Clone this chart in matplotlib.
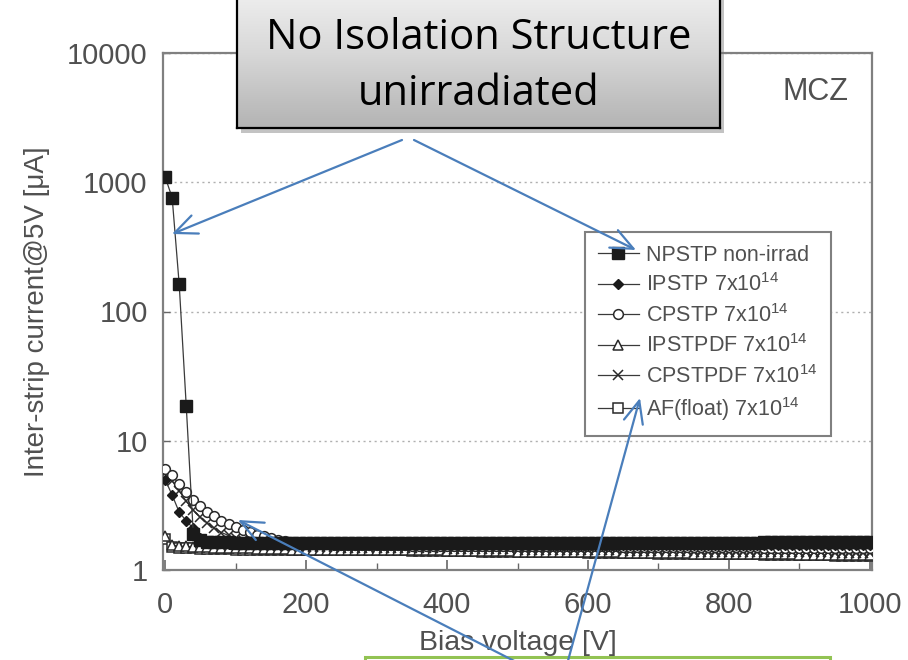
import matplotlib
matplotlib.use('Agg')
import matplotlib.pyplot as plt
import numpy as np
from matplotlib.patches import Rectangle
from matplotlib.colors import LinearSegmentedColormap

plt.rcParams['font.family'] = ['Liberation Sans', 'DejaVu Sans']
plt.rcParams['mathtext.fontset'] = 'custom'
plt.rcParams['mathtext.rm'] = 'Liberation Sans'
plt.rcParams['mathtext.it'] = 'Liberation Sans:italic'

# ---------------- data ----------------
voltage = list(range(0, 1001, 10))

npstp = [1100, 760, 162, 18.5, 1.9, 1.70, 1.66, 1.65, 1.64, 1.64,
         1.63, 1.63, 1.63, 1.63, 1.63, 1.62, 1.62, 1.62, 1.62, 1.62,
         1.62, 1.62, 1.62, 1.62, 1.62, 1.62, 1.62, 1.62, 1.62, 1.62,
         1.62, 1.62, 1.62, 1.62, 1.62, 1.62, 1.62, 1.62, 1.62, 1.62,
         1.62, 1.62, 1.62, 1.62, 1.62, 1.63, 1.63, 1.63, 1.63, 1.63,
         1.63, 1.63, 1.63, 1.63, 1.63, 1.63, 1.63, 1.63, 1.63, 1.63,
         1.63, 1.63, 1.63, 1.63, 1.63, 1.63, 1.63, 1.63, 1.63, 1.63,
         1.63, 1.63, 1.63, 1.63, 1.63, 1.63, 1.63, 1.63, 1.63, 1.63,
         1.63, 1.63, 1.63, 1.63, 1.63, 1.64, 1.64, 1.64, 1.64, 1.64,
         1.64, 1.64, 1.64, 1.64, 1.64, 1.64, 1.64, 1.64, 1.64, 1.64,
         1.64]

ipstp = [5.0, 3.8, 2.8, 2.4, 2.1, 1.76, 1.66, 1.63, 1.61, 1.60,
         1.60, 1.59, 1.59, 1.59, 1.58, 1.58, 1.58, 1.58, 1.58, 1.58,
         1.58, 1.58, 1.58, 1.58, 1.58, 1.58, 1.58, 1.58, 1.58, 1.58,
         1.58, 1.58, 1.58, 1.58, 1.58, 1.58, 1.58, 1.58, 1.58, 1.58,
         1.58, 1.58, 1.58, 1.58, 1.58, 1.58, 1.58, 1.58, 1.58, 1.58,
         1.58, 1.58, 1.58, 1.58, 1.58, 1.57, 1.57, 1.57, 1.57, 1.57,
         1.57, 1.57, 1.57, 1.57, 1.57, 1.57, 1.57, 1.57, 1.57, 1.57,
         1.57, 1.57, 1.57, 1.57, 1.57, 1.57, 1.57, 1.57, 1.57, 1.57,
         1.57, 1.57, 1.57, 1.57, 1.57, 1.57, 1.57, 1.57, 1.57, 1.57,
         1.57, 1.57, 1.57, 1.57, 1.57, 1.57, 1.57, 1.57, 1.57, 1.57,
         1.57]

cpstp = [6.0, 5.4, 4.6, 4.0, 3.5, 3.1, 2.8, 2.6, 2.4, 2.25,
         2.15, 2.05, 1.96, 1.88, 1.82, 1.76, 1.72, 1.68, 1.65, 1.62,
         1.60, 1.59, 1.58, 1.58, 1.57, 1.57, 1.56, 1.56, 1.56, 1.55,
         1.55, 1.55, 1.55, 1.55, 1.55, 1.54, 1.54, 1.54, 1.54, 1.54,
         1.54, 1.54, 1.54, 1.54, 1.54, 1.53, 1.53, 1.53, 1.53, 1.53,
         1.53, 1.53, 1.53, 1.53, 1.53, 1.52, 1.52, 1.52, 1.52, 1.52,
         1.52, 1.52, 1.52, 1.52, 1.52, 1.51, 1.51, 1.51, 1.51, 1.51,
         1.51, 1.51, 1.51, 1.51, 1.51, 1.50, 1.50, 1.50, 1.50, 1.50,
         1.50, 1.50, 1.50, 1.50, 1.50, 1.49, 1.49, 1.49, 1.49, 1.49,
         1.49, 1.49, 1.49, 1.49, 1.49, 1.48, 1.48, 1.48, 1.48, 1.48,
         1.48]

ipstpdf = [1.82, 1.56, 1.53, 1.52, 1.51, 1.50, 1.50, 1.49, 1.49, 1.48,
           1.48, 1.47, 1.47, 1.46, 1.46, 1.45, 1.45, 1.45, 1.44, 1.44,
           1.44, 1.44, 1.44, 1.44, 1.44, 1.43, 1.43, 1.43, 1.43, 1.43,
           1.43, 1.43, 1.43, 1.43, 1.43, 1.42, 1.42, 1.42, 1.42, 1.42,
           1.41, 1.41, 1.41, 1.41, 1.41, 1.40, 1.40, 1.40, 1.40, 1.40,
           1.39, 1.39, 1.39, 1.39, 1.39, 1.38, 1.38, 1.38, 1.38, 1.38,
           1.37, 1.37, 1.37, 1.37, 1.37, 1.36, 1.36, 1.36, 1.36, 1.36,
           1.35, 1.35, 1.35, 1.35, 1.35, 1.34, 1.34, 1.34, 1.34, 1.34,
           1.33, 1.33, 1.33, 1.33, 1.33, 1.32, 1.32, 1.32, 1.32, 1.32,
           1.31, 1.31, 1.31, 1.31, 1.31, 1.30, 1.30, 1.30, 1.30, 1.30,
           1.30]

cpstpdf = [5.6, 4.9, 4.1, 3.4, 2.9, 2.55, 2.3, 2.1, 1.95, 1.85,
           1.76, 1.70, 1.65, 1.60, 1.57, 1.55, 1.54, 1.53, 1.52, 1.52,
           1.51, 1.51, 1.50, 1.50, 1.50, 1.49, 1.49, 1.49, 1.48, 1.48,
           1.47, 1.47, 1.47, 1.47, 1.47, 1.47, 1.47, 1.47, 1.47, 1.47,
           1.46, 1.46, 1.46, 1.46, 1.46, 1.45, 1.45, 1.45, 1.45, 1.45,
           1.44, 1.44, 1.44, 1.44, 1.44, 1.43, 1.43, 1.43, 1.43, 1.43,
           1.42, 1.42, 1.42, 1.42, 1.42, 1.41, 1.41, 1.41, 1.41, 1.41,
           1.40, 1.40, 1.40, 1.40, 1.40, 1.39, 1.39, 1.39, 1.39, 1.39,
           1.39, 1.39, 1.39, 1.39, 1.39, 1.38, 1.38, 1.38, 1.38, 1.38,
           1.37, 1.37, 1.37, 1.37, 1.37, 1.36, 1.36, 1.36, 1.36, 1.36,
           1.36]

af_float = [1.75, 1.50, 1.48, 1.47, 1.47, 1.46, 1.46, 1.45, 1.45, 1.45,
            1.44, 1.44, 1.44, 1.44, 1.44, 1.44, 1.44, 1.44, 1.44, 1.44,
            1.43, 1.43, 1.43, 1.43, 1.43, 1.43, 1.43, 1.43, 1.43, 1.43,
            1.42, 1.42, 1.42, 1.42, 1.42, 1.41, 1.41, 1.41, 1.41, 1.41,
            1.40, 1.40, 1.40, 1.40, 1.40, 1.39, 1.39, 1.39, 1.39, 1.39,
            1.38, 1.38, 1.38, 1.38, 1.38, 1.37, 1.37, 1.37, 1.37, 1.37,
            1.36, 1.36, 1.36, 1.36, 1.36, 1.35, 1.35, 1.35, 1.35, 1.35,
            1.34, 1.34, 1.34, 1.34, 1.34, 1.33, 1.33, 1.33, 1.33, 1.33,
            1.32, 1.32, 1.32, 1.32, 1.32, 1.31, 1.31, 1.31, 1.31, 1.31,
            1.30, 1.30, 1.30, 1.30, 1.30, 1.28, 1.28, 1.28, 1.28, 1.28,
            1.28]

labels = ['NPSTP non-irrad', 'IPSTP 7x10$^{14}$', 'CPSTP 7x10$^{14}$',
          'IPSTPDF 7x10$^{14}$', 'CPSTPDF 7x10$^{14}$', 'AF(float) 7x10$^{14}$']
xticks = [0, 200, 400, 600, 800, 1000]
yticks = [1, 10, 100, 1000, 10000]
ytick_labels = ['1', '10', '100', '1000', '10000']

# ---------------- figure ----------------
W, H = 908, 660
TXT = '#505050'
fig = plt.figure(figsize=(W / 100, H / 100), dpi=100)
ax = fig.add_axes([163 / W, 1 - 570 / H, 709 / W, 517 / H])

series = [npstp, ipstp, cpstp, ipstpdf, cpstpdf, af_float]
styles = [
    dict(marker='s', ms=8, mfc='#1a1a1a', mec='#1a1a1a'),
    dict(marker='D', ms=5, mfc='#1a1a1a', mec='#1a1a1a'),
    dict(marker='o', ms=7, mfc='white', mec='#2a2a2a', mew=1.1),
    dict(marker='^', ms=7, mfc='white', mec='#2a2a2a', mew=1.1),
    dict(marker='x', ms=7, mfc='none', mec='#2a2a2a', mew=1.1),
    dict(marker='s', ms=6.5, mfc='white', mec='#2a2a2a', mew=1.1),
]
order = [5, 3, 4, 2, 1, 0]
handles = [None] * 6
for i in order:
    ln, = ax.plot(voltage, series[i], color='#3a3a3a', lw=0.9, **styles[i], zorder=3)
    handles[i] = ln

ax.set_yscale('log')
ax.set_xlim(-3, 1003)
ax.set_ylim(1, 10000)
ax.set_xticks(xticks)
ax.set_xticks([100, 300, 500, 700, 900], minor=True)
ax.set_yticks(yticks)
ax.set_yticklabels(ytick_labels)
ax.yaxis.set_minor_locator(matplotlib.ticker.NullLocator())
ax.tick_params(axis='both', which='both', direction='in', colors='#666666', labelcolor=TXT, labelsize=21)
ax.tick_params(axis='x', which='major', length=7, width=1.2, pad=15)
ax.tick_params(axis='x', which='minor', length=5, width=1.0)
ax.tick_params(axis='y', which='major', length=5, width=1.0, pad=11)
for s in ax.spines.values():
    s.set_color('#808080')
    s.set_linewidth(1.6)
ax.yaxis.grid(True, which='major', linestyle=(0, (1.5, 2.5)), color='#b0b0b0', lw=1.0)
ax.set_axisbelow(True)

ax.set_xlabel('Bias voltage [V]', fontsize=20.5, color=TXT, labelpad=8)
ax.set_ylabel('Inter-strip current@5V [μA]', fontsize=20, color=TXT, labelpad=12)
ax.text(0.92, 0.925, 'MCZ', transform=ax.transAxes, fontsize=22, color=TXT,
        ha='center', va='center')

leg = ax.legend(handles, labels, loc='upper left', bbox_to_anchor=(0.595, 0.654),
                fancybox=False, framealpha=1, edgecolor='#808080', fontsize=15.5,
                labelspacing=0.35, handlelength=1.9, handletextpad=0.35,
                borderpad=0.6, borderaxespad=0)
leg.get_frame().set_linewidth(1.5)
for t in leg.get_texts():
    t.set_color(TXT)

# ---------------- callout (top) ----------------
shadow = Rectangle((241 / W, 1 - 133 / H), 483 / W, 160 / H, transform=fig.transFigure,
                   facecolor='#7a7a7a', alpha=0.45, edgecolor='none', zorder=1)
fig.add_artist(shadow)
cax = fig.add_axes([237 / W, 1 - 128 / H, 483 / W, 150 / H], zorder=2)
cmap = LinearSegmentedColormap.from_list('g', ['#b3b3b3', '#d8d8d8', '#f4f4f4'])
grad = np.linspace(0, 1, 256).reshape(-1, 1)
cax.imshow(grad, aspect='auto', extent=[0, 1, 0, 1], origin='lower', cmap=cmap)
cax.set_xlim(0, 1)
cax.set_ylim(0, 1)
cax.set_xticks([])
cax.set_yticks([])
for s in cax.spines.values():
    s.set_color('black')
    s.set_linewidth(1.6)
cax.text(0.5, (128 - 38) / 150, 'No Isolation Structure', fontsize=30,
         family=['Open Sans', 'DejaVu Sans'], ha='center', va='center', color='black')
cax.text(0.5, (128 - 94) / 150, 'unirradiated', fontsize=30,
         family=['Open Sans', 'DejaVu Sans'], ha='center', va='center', color='black')

# ---------------- overlay: arrows and bottom box ----------------
ov = fig.add_axes([0, 0, 1, 1], zorder=5)
ov.set_xlim(0, W)
ov.set_ylim(H, 0)
ov.set_axis_off()
ov.patch.set_alpha(0)

ov.add_patch(Rectangle((365, 657), 465, 30, facecolor='white', edgecolor='#92c353',
                       lw=2.2, clip_on=False, zorder=1))

blue = '#4a7ebb'
aprops = dict(arrowstyle='->,head_length=0.8,head_width=0.35', color=blue, lw=1.6,
              shrinkA=0, shrinkB=0, mutation_scale=20)
arrows = [((402, 140), (172, 234)),
          ((414, 140), (636, 250)),
          ((528, 668), (238, 520)),
          ((566, 668), (640, 398))]
for start, end in arrows:
    ov.annotate('', xy=end, xytext=start, xycoords='data', textcoords='data',
                arrowprops=aprops, annotation_clip=False, zorder=3)

fig.savefig('out.png', dpi=100, facecolor='white')
